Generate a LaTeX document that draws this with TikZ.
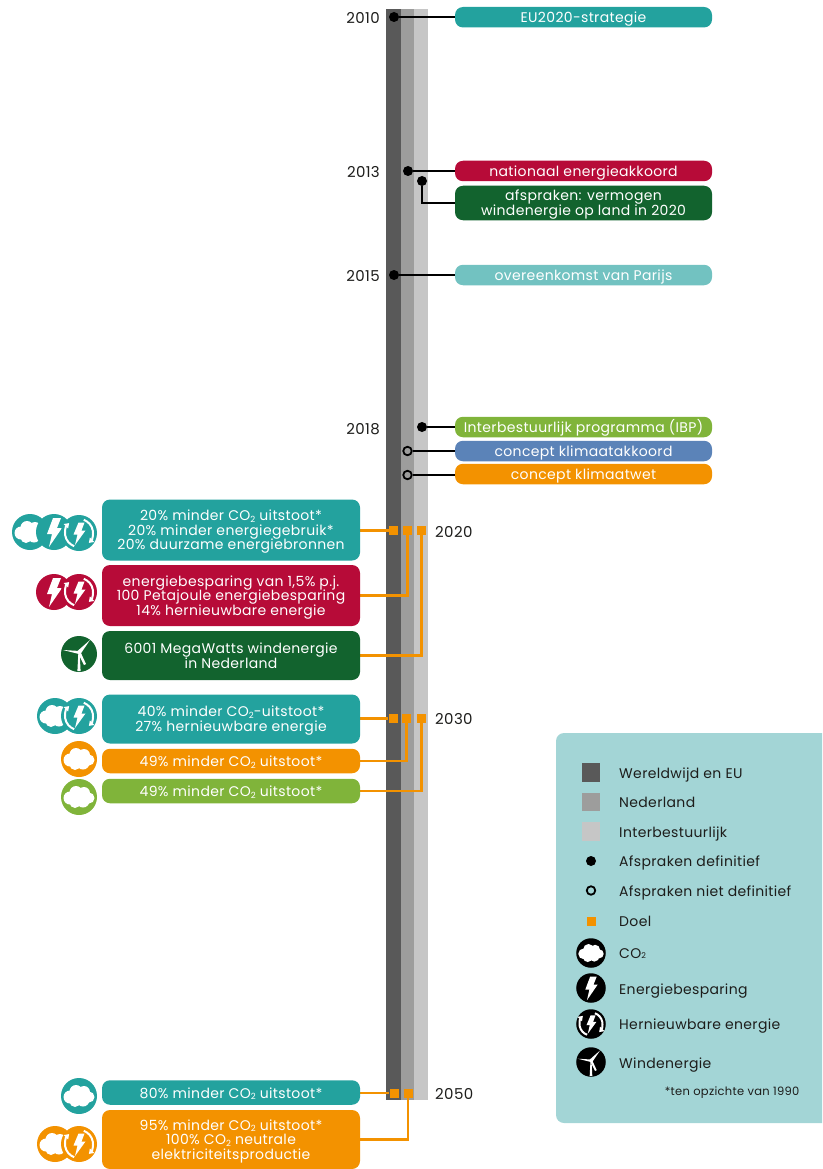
\documentclass[tikz,border=0pt]{standalone}
\usepackage{fontspec}
\setmainfont[LetterSpace=2.5]{Poppins}
\usetikzlibrary{backgrounds,arrows.meta}
\definecolor{cteal}{HTML}{23A29E}
\definecolor{cred}{HTML}{B70B38}
\definecolor{cdgreen}{HTML}{12632E}
\definecolor{clteal}{HTML}{72C2C1}
\definecolor{clgreen}{HTML}{80B43A}
\definecolor{cblue}{HTML}{5B83B8}
\definecolor{corange}{HTML}{F39200}
\definecolor{clegend}{HTML}{A3D5D6}
\definecolor{cbara}{HTML}{595959}
\definecolor{cbarb}{HTML}{9D9D9C}
\definecolor{cbarc}{HTML}{C6C6C6}
\definecolor{ctext}{HTML}{1D1D1B}
\newcommand{\COt}{CO\raisebox{-1.5pt}{\fontsize{8.5}{8.5}\selectfont 2}}
\tikzset{
  x=1pt,y=-1pt,
  card/.style={fill=#1,rounded corners=8pt,text=white,font=\fontsize{14}{14.5}\selectfont,align=center,inner sep=0pt,anchor=center,
    execute at begin node={\rule{0pt}{15pt}},execute at end node={\rule[-3.5pt]{0pt}{0pt}}},
  lcard/.style={card=#1,minimum width=258pt},
  rcard/.style={card=#1,minimum width=257pt},
  twolines/.style={execute at begin node={\rule{0pt}{28.5pt}}},
  threelines/.style={execute at begin node={\rule{0pt}{43.5pt}}},
  year/.style={font=\fontsize{15}{14}\selectfont,text=ctext,inner sep=0pt,text height=12.5pt,text depth=0pt},
  legtext/.style={font=\fontsize{14}{14}\selectfont,text=ctext,inner sep=0pt,anchor=west,text height=10pt,text depth=0pt},
  goalmark/.style={fill=corange,minimum size=9pt,inner sep=0pt},
  dotmark/.style={circle,fill=black,minimum size=10pt,inner sep=0pt},
  opendot/.style={circle,draw=black,line width=1.8pt,minimum size=8.5pt,inner sep=0pt},
  swatch/.style={fill=#1,minimum size=18.5pt,inner sep=0pt},
  blackline/.style={draw=black,line width=2.2pt},
  goalline/.style={draw=corange,line width=2.2pt},
  pics/cloudicon/.style={code={
    \fill[#1] (0,0) circle[radius=18];
    \fill[white] (-9,1) circle[radius=6.5] (-3,-4.5) circle[radius=6.5] (5,-4) circle[radius=6] (10,1) circle[radius=5.5] (4,4) circle[radius=6.5] (-4,5.5) circle[radius=5.5];
  }},
  pics/bolticon/.style={code={
    \fill[#1] (0,0) circle[radius=18];
    \fill[white] (-1,-14) -- (7,-14) -- (3,-4) -- (8,-4) -- (-5,15) -- (-2,2) -- (-7,2) -- cycle;
  }},
  pics/renewicon/.style={code={
    \fill[#1] (0,0) circle[radius=18];
    \fill[white] (-0.5,-10.5) -- (5.5,-10.5) -- (2.5,-2.5) -- (6.5,-2.5) -- (-4,12) -- (-1.5,1.5) -- (-5.5,1.5) -- cycle;
    \draw[white,line width=2pt,-{Triangle[width=6pt,length=4.5pt]}] (-70:14) arc[start angle=-70,end angle=45,radius=14];
    \draw[white,line width=2pt,-{Triangle[width=6pt,length=4.5pt]}] (110:14) arc[start angle=110,end angle=225,radius=14];
  }},
  pics/windicon/.style={code={
    \fill[#1] (0,0) circle[radius=18];
    \fill[white] (-1.6,17) -- (1.6,17) -- (0.6,-2) -- (-0.6,-2) -- cycle;
    \fill[white] (-1.5,-3) -- (11,-14) -- (1.5,0) -- cycle;
    \fill[white] (-16,-4) -- (1,-3) -- (0,0) -- cycle;
    \fill[white] (-1,-1) -- (1.5,-2) -- (7,10) -- (5,11) -- cycle;
  }},
}
\begin{document}
\begin{tikzpicture}
\useasboundingbox (0,0) rectangle (822,1169);
\begin{scope}[on background layer]
\fill[cbara] (386,9) rectangle (401,1100);
\fill[cbarb] (401,9) rectangle (414,1100);
\fill[cbarc] (414,9) rectangle (428,1100);
\end{scope}
\fill[clegend] (822,733) [rounded corners=8pt] -- (556,733) -- (556,1123) [sharp corners] -- (822,1123) -- cycle;
% right cards
\node[rcard=cteal,minimum height=20.5pt] (t1) at (583.5,17.25) {EU2020-strategie};
\node[rcard=cred,minimum height=20.5pt] (t2) at (583.5,171) {nationaal energieakkoord};
\node[rcard=cdgreen,twolines,minimum height=34.5pt] (t3) at (583.5,203) {afspraken: vermogen\\windenergie op land in 2020};
\node[rcard=clteal,minimum height=20.5pt] (t4) at (583.5,275) {overeenkomst van Parijs};
\node[rcard=clgreen,minimum height=20.5pt] (t5) at (583.5,427) {Interbestuurlijk programma (IBP)};
\node[rcard=cblue,minimum height=20.5pt] (t6) at (583.5,451) {concept klimaatakkoord};
\node[rcard=corange,minimum height=20.5pt] (t7) at (583.5,474) {concept klimaatwet};
% left cards
\node[lcard=cteal,threelines,minimum height=61pt] (b1) at (231,530) {20\% minder \COt{} uitstoot*\\20\% minder energiegebruik*\\20\% duurzame energiebronnen};
\node[lcard=cred,threelines,minimum height=61pt] (b2) at (231,595.5) {energiebesparing van 1,5\% p.j.\\100 Petajoule energiebesparing\\14\% hernieuwbare energie};
\node[lcard=cdgreen,twolines,minimum height=49pt] (b3) at (231,655.5) {6001 MegaWatts windenergie\\in Nederland};
\node[lcard=cteal,twolines,minimum height=49pt] (b4) at (231,719) {40\% minder \COt{}-uitstoot*\\27\% hernieuwbare energie};
\node[lcard=corange,minimum height=24.5pt] (b5) at (231,761) {49\% minder \COt{} uitstoot*};
\node[lcard=clgreen,minimum height=24.5pt] (b6) at (231,791) {49\% minder \COt{} uitstoot*};
\node[lcard=cteal,minimum height=24.5pt] (b7) at (231,1092.5) {80\% minder \COt{} uitstoot*};
\node[lcard=corange,threelines,minimum height=59pt] (b8) at (231,1139.5) {95\% minder \COt{} uitstoot*\\100\% \COt{} neutrale\\elektriciteitsproductie};
% years
\node[year,anchor=east] (y10) at (380,17) {2010};
\node[year,anchor=east] (y13) at (380,171) {2013};
\node[year,anchor=east] (y15) at (380,275) {2015};
\node[year,anchor=east] (y18) at (380,428) {2018};
\node[year,anchor=west] (y20) at (435,531) {2020};
\node[year,anchor=west] (y30) at (435,718) {2030};
\node[year,anchor=west] (y50) at (435,1093) {2050};
% markers
\node[dotmark] (d1) at (394,17) {};
\node[dotmark] (d2) at (408,171) {};
\node[dotmark] (d3) at (422,181) {};
\node[dotmark] (d4) at (394,275) {};
\node[dotmark] (d5) at (422,427) {};
\node[opendot] (d6) at (407.5,451) {};
\node[opendot] (d7) at (407.5,475) {};
\node[goalmark] (s1) at (393.5,530.5) {};
\node[goalmark] (s2) at (407.5,530.5) {};
\node[goalmark] (s3) at (421.5,530.5) {};
\node[goalmark] (s4) at (393,718.5) {};
\node[goalmark] (s5) at (406.5,718.5) {};
\node[goalmark] (s6) at (421.5,718.5) {};
\node[goalmark] (s7) at (394,1093) {};
\node[goalmark] (s8) at (408,1093) {};
% connectors
\begin{scope}[on background layer]
\draw[blackline] (d1) -- (t1.west |- d1);
\draw[blackline] (d2) -- (t2.west |- d2);
\draw[blackline] (d3) -- (d3 |- t3.west) -- (t3.west);
\draw[blackline] (d4) -- (t4.west |- d4);
\draw[blackline] (d5) -- (t5.west |- d5);
\draw[blackline] (d6) -- (t6.west |- d6);
\draw[blackline] (d7) -- (t7.west |- d7);
\draw[goalline] (b1.east |- s1) -- (s1);
\draw[goalline] (b2.east) -- (b2.east -| s2) -- (s2);
\draw[goalline] (b3.east) -- (b3.east -| s3) -- (s3);
\draw[goalline] (b4.east |- s4) -- (s4);
\draw[goalline] (b5.east) -- (b5.east -| s5) -- (s5);
\draw[goalline] (b6.east) -- (b6.east -| s6) -- (s6);
\draw[goalline] (b7.east |- s7) -- (s7);
\draw[goalline] (b8.east) -- (b8.east -| s8) -- (s8);
\end{scope}
% left icons
\pic at (30,532) {cloudicon=cteal};
\pic at (54,532) {bolticon=cteal};
\pic at (79,533) {renewicon=cteal};
\pic at (54,592) {bolticon=cred};
\pic at (79,592) {renewicon=cred};
\pic at (79,654) {windicon=cdgreen};
\pic at (55,716) {cloudicon=cteal};
\pic at (79,716) {renewicon=cteal};
\pic at (79,759) {cloudicon=corange};
\pic at (79,797) {cloudicon=clgreen};
\pic at (79,1096) {cloudicon=cteal};
\pic at (55,1144) {cloudicon=corange};
\pic at (79,1144) {renewicon=corange};
% legend
\node[swatch=cbara] (k1) at (591,772.5) {};
\node[swatch=cbarb] (k2) at (591,802) {};
\node[swatch=cbarc] (k3) at (591,831.5) {};
\node[dotmark] (k4) at (591,861) {};
\node[opendot] (k5) at (591,890.5) {};
\node[goalmark] (k6) at (591,921) {};
\pic[scale=.82] at (591,953) {cloudicon=black};
\pic[scale=.82] at (591,988) {bolticon=black};
\pic[scale=.82] at (591,1024) {renewicon=black};
\pic[scale=.82] at (591,1062) {windicon=black};
\node[legtext] (l1) at (619,773) {Wereldwijd en EU};
\node[legtext] (l2) at (619,802) {Nederland};
\node[legtext] (l3) at (619,832) {Interbestuurlijk};
\node[legtext] (l4) at (619,861) {Afspraken definitief};
\node[legtext] (l5) at (619,891) {Afspraken niet definitief};
\node[legtext] (l6) at (619,921) {Doel};
\node[legtext] (l7) at (619,953) {CO\raisebox{-.5pt}{\fontsize{8}{8}\selectfont 2}};
\node[legtext] (l8) at (619,989) {Energiebesparing};
\node[legtext] (l9) at (619,1024) {Hernieuwbare energie};
\node[legtext] (l10) at (619,1063) {Windenergie};
\node[inner sep=0pt,anchor=east,text=ctext,font=\fontsize{11.5}{12}\selectfont] (fn) at (799.5,1093) {*ten opzichte van 1990};
\end{tikzpicture}
\end{document}
